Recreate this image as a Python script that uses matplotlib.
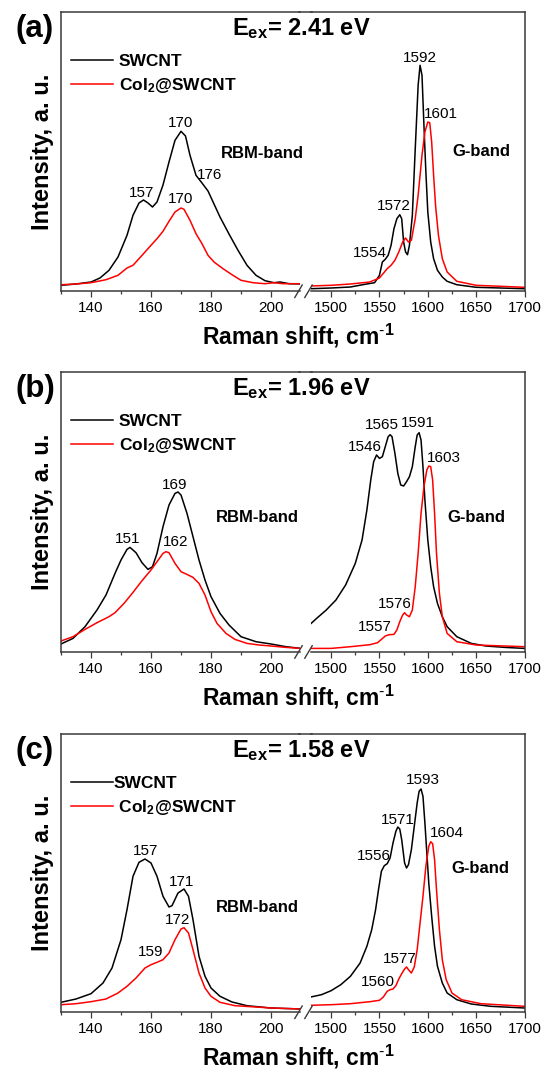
import matplotlib
matplotlib.use('Agg')
import matplotlib.pyplot as plt
from matplotlib.lines import Line2D
from matplotlib.ticker import MultipleLocator, NullLocator

plt.rcParams['font.family'] = ['Liberation Sans', 'DejaVu Sans']
plt.rcParams['mathtext.fontset'] = 'custom'
plt.rcParams['mathtext.rm'] = 'Liberation Sans'
plt.rcParams['mathtext.bf'] = 'Liberation Sans:bold'
plt.rcParams['mathtext.it'] = 'Liberation Sans:italic'

# ---------------- data (intensity in arbitrary units) ----------------
# Panel (a)  E_ex = 2.41 eV
a_rbm_sw_x = [130, 135, 140, 143, 146, 149, 152, 154, 156, 157.5, 159, 160.5, 162, 164, 166, 168, 170, 171.5, 173, 175,
              177, 179, 181, 183, 186, 189, 192, 195, 198, 201, 203, 206, 210]
a_rbm_sw_y = [5.7, 7, 9, 13, 20.7, 34, 55.7, 75.7, 88, 91, 88, 84, 89, 106, 129, 150.7, 159.7, 155, 135.7, 115.7,
              108, 100, 87, 74, 57, 40.7, 25.7, 15.7, 10.3, 8.3, 9, 7.3, 7]
a_rbm_co_x = [130, 135, 140, 145, 149, 152, 154, 156, 158, 160, 162, 164, 166, 168, 170, 171, 173, 175, 177, 179, 181,
              184, 187, 190, 194, 198, 201, 204, 210]
a_rbm_co_y = [6.3, 7, 8.3, 11.3, 15.7, 23, 25.7, 32.3, 39, 45.7, 52.3, 59.7, 69.7, 79, 83, 81.7, 70.7, 57.3, 47.3, 35.7,
              29, 22.3, 16.3, 10.7, 8.3, 7.3, 8.3, 7.3, 7.3]
a_g_sw_x = [1479, 1500, 1520, 1535, 1545, 1550, 1553, 1556, 1559, 1562, 1565, 1568, 1571, 1573, 1575, 1577, 1579, 1581,
            1584, 1587, 1590, 1592, 1594, 1596, 1598, 1600, 1603, 1606, 1610, 1615, 1620, 1630, 1650, 1700]
a_g_sw_y = [2.3, 3, 4, 6.7, 8.3, 15.7, 29, 31.7, 35.7, 45.7, 62.3, 72.3, 76.3, 72.3, 49, 39, 36.3, 45.7,
            75.7, 142, 205.7, 225.7, 215.7, 165.7, 119, 79, 49, 32.3, 20.7, 14, 9.7, 6.3, 3.7, 2.3]
a_g_co_x = [1479, 1500, 1520, 1540, 1550, 1558, 1562, 1566, 1570, 1574, 1577, 1580, 1583, 1587, 1590, 1594, 1597, 1600,
            1602, 1604, 1606, 1608, 1611, 1615, 1620, 1630, 1650, 1700]
a_g_co_y = [5, 5.7, 7, 9, 13, 22.3, 25.7, 30.7, 39, 49, 53, 49, 50.7, 72.3, 95.7, 135.7, 159, 169,
            168.3, 149, 115.7, 85.7, 55.7, 32.3, 19, 9.7, 5.7, 3.7]

# Panel (b)  E_ex = 1.96 eV
b_rbm_sw_x = [130, 134, 138, 142, 145, 148, 150, 152, 153, 155, 157, 159, 160.5, 162, 164, 166, 168, 169, 170, 172, 174,
              176, 178, 180, 183, 186, 190, 195, 200, 205, 210]
b_rbm_sw_y = [7.7, 13.3, 25, 41.7, 56.7, 78.3, 91.7, 102.3, 104.3, 99, 89, 82.3, 85, 98.3, 125, 146.7, 158.3, 159.7,
              156.7, 138.3, 115, 91.7, 71.7, 55, 38.3, 26.7, 15, 10, 7.7, 5, 3.3]
b_rbm_co_x = [130, 134, 138, 142, 146, 148, 151, 154, 157, 160, 162, 164, 165, 166, 168, 170, 172, 174, 176, 178, 180,
              182, 185, 188, 192, 196, 200, 205, 210]
b_rbm_co_y = [10.7, 15, 22.3, 29, 35, 39, 48.3, 59.3, 71, 81.7, 90, 98.3, 100, 99, 88.3, 80, 77.3, 74.3, 68.3, 56.7, 40,
              28.3, 18.3, 12.3, 8.3, 6.7, 5.7, 4.3, 3.3]
b_g_sw_x = [1479, 1485, 1495, 1505, 1515, 1525, 1532, 1537, 1541, 1544, 1547, 1550, 1553, 1556, 1559, 1561, 1563, 1566,
            1569, 1572, 1575, 1578, 1581, 1584, 1587, 1589, 1591, 1593, 1595, 1597, 1600, 1603, 1606, 1610, 1615,
            1620, 1630, 1645, 1660, 1680, 1700]
b_g_sw_y = [28, 33.3, 41.7, 51.7, 66.7, 88.3, 111.7, 141.7, 171.7, 190, 196.7, 193.3, 195, 205, 215, 217, 215, 198.3,
            178.3, 166.7, 165.7, 170, 175, 185, 205, 216.7, 219, 211.7, 185, 151.7, 111.7, 85, 65, 48.3, 35,
            25, 15, 8.3, 5.7, 4.3, 3.3]
b_g_co_x = [1479, 1500, 1520, 1540, 1548, 1552, 1556, 1560, 1565, 1568, 1571, 1574, 1576, 1578, 1581, 1584, 1587, 1590,
            1593, 1596, 1599, 1601, 1603, 1605, 1607, 1609, 1612, 1615, 1620, 1630, 1650, 1700]
b_g_co_y = [3.3, 3.3, 5, 7, 9, 12.3, 15.7, 17, 17.3, 21.7, 30, 36.7, 39, 36.7, 35, 41.7, 65, 98.3,
            138.3, 165, 181.7, 185.7, 185, 171.7, 138.3, 98.3, 58.3, 35, 18.3, 10, 6.7, 5]

# Panel (c)  E_ex = 1.58 eV
c_rbm_sw_x = [130, 135, 140, 144, 147, 150, 152, 154, 156, 158, 160, 162, 164, 166, 167, 169, 171, 172.5, 174, 176, 178,
              180, 183, 187, 192, 200, 210]
c_rbm_sw_y = [9.7, 13, 18.3, 29, 44, 72.3, 102.3, 135.7, 149.7, 153, 149, 135.7, 115.7, 105, 106.3, 119, 123, 115.7,
              92.3, 55.7, 35.7, 24, 15.7, 10, 6.3, 4, 3]
c_rbm_co_x = [130, 135, 140, 145, 149, 152, 155, 158, 160, 162, 164, 166, 168, 170, 171, 172.5, 174, 176, 178, 180, 183,
              188, 195, 200, 210]
c_rbm_co_y = [7.3, 8.3, 10.3, 13, 19, 25.7, 34, 44, 47.3, 49.7, 52.3, 59, 72.3, 83, 84.3, 79, 62.3, 39, 24, 15.7, 9.7,
              6.3, 5, 4, 3]
c_g_sw_x = [1479, 1490, 1500, 1510, 1520, 1530, 1537, 1542, 1546, 1549, 1552, 1555, 1558, 1561, 1564, 1567, 1569, 1571,
            1573, 1576, 1578, 1580, 1583, 1586, 1589, 1591, 1593, 1595, 1597, 1599, 1601, 1604, 1607, 1610, 1615,
            1620, 1630, 1645, 1665, 1700]
c_g_sw_y = [15, 17.3, 21.3, 27.3, 35.7, 49, 65.7, 82.3, 102.3, 122.3, 140.7, 146.3, 148.3, 154, 169, 180.7, 185, 183,
            172.3, 149, 144, 147.3, 162.3, 185.7, 209, 220.7, 223, 215.7, 189, 159, 129, 95.7, 65.7, 45.7, 29,
            19, 12.3, 8, 5.7, 4]
c_g_co_x = [1479, 1500, 1520, 1540, 1550, 1554, 1558, 1561, 1564, 1567, 1570, 1573, 1576, 1578, 1580, 1583, 1586, 1589,
            1592, 1595, 1598, 1601, 1603, 1605, 1607, 1609, 1612, 1615, 1619, 1625, 1635, 1655, 1700]
c_g_co_y = [6.7, 7.3, 8.3, 10.3, 11.7, 15, 20.7, 22.3, 23, 26.3, 33, 38.3, 43, 45, 42.3, 39, 45, 62.3,
            89, 115.7, 145.7, 165.7, 170.3, 168.3, 152.3, 122.3, 82.3, 52.3, 32.3, 19, 12.3, 8.3, 5.7]

# peak labels: (text, x, y)
a_peaks = [('157', 156.7, 98), ('170', 170, 168), ('176', 179.5, 116), ('170', 170, 91.7),
           ('1554', 1540, 38.3), ('1572', 1565, 85), ('1592', 1592, 233), ('1601', 1613.5, 177)]
b_peaks = [('151', 152.3, 112.7), ('169', 168, 166.7), ('162', 168.2, 110),
           ('1546', 1535.3, 205), ('1565', 1552.3, 226.7), ('1591', 1589.4, 228.3), ('1603', 1617, 194),
           ('1576', 1565.6, 47.7), ('1557', 1545, 24.3)]
c_peaks = [('157', 158.1, 160.7), ('171', 170.2, 130), ('172', 168.7, 92.3), ('159', 159.8, 59.7),
           ('1593', 1594.6, 231.7), ('1571', 1569, 192.3), ('1556', 1544.6, 156.3), ('1604', 1619.6, 179),
           ('1577', 1570.7, 53), ('1560', 1548.2, 30)]
a_bands = [('RBM-band', 197, 138), ('G-band', 1655, 139.7)]
b_bands = [('RBM-band', 195.5, 134), ('G-band', 1650.6, 134)]
c_bands = [('RBM-band', 195.5, 105), ('G-band', 1654.6, 143.3)]

panel_letters = ['(a)', '(b)', '(c)']
energies = ['2.41', '1.96', '1.58']
series_names = ['SWCNT', r'CoI$_\mathbf{2}$@SWCNT']
left_ticks = [140, 160, 180, 200]
right_ticks = [1500, 1550, 1600, 1650, 1700]

# ---------------- layout ----------------
W, H = 543, 1072
fig = plt.figure(figsize=(W / 100, H / 100), dpi=100)

tops = [12, 372.3, 734]
bots = [291, 651.7, 1012]
L0, L1 = 61, 299.5
R0, R1 = 310.8, 524.5
LXLIM = (130, 209.5)
RXLIM = (1479, 1700)

def fx(px):
    return px / W

def fy(py):
    return 1 - py / H

spine_col = '#3a3a3a'
red = '#ff0000'
LW = 1.1
panels = [
    (a_rbm_sw_x, a_rbm_sw_y, a_rbm_co_x, a_rbm_co_y, a_g_sw_x, a_g_sw_y, a_g_co_x, a_g_co_y, a_peaks, a_bands),
    (b_rbm_sw_x, b_rbm_sw_y, b_rbm_co_x, b_rbm_co_y, b_g_sw_x, b_g_sw_y, b_g_co_x, b_g_co_y, b_peaks, b_bands),
    (c_rbm_sw_x, c_rbm_sw_y, c_rbm_co_x, c_rbm_co_y, c_g_sw_x, c_g_sw_y, c_g_co_x, c_g_co_y, c_peaks, c_bands),
]

for i, (lsx, lsy, lcx, lcy, rsx, rsy, rcx, rcy, peaks, bands) in enumerate(panels):
    top, bot = tops[i], bots[i]
    hpx = bot - top
    axL = fig.add_axes([fx(L0), fy(bot), fx(L1 - L0), hpx / H])
    axR = fig.add_axes([fx(R0), fy(bot), fx(R1 - R0), hpx / H])
    axL.plot(lsx, lsy, color='black', lw=LW)
    axL.plot(lcx, lcy, color=red, lw=LW)
    axR.plot(rsx, rsy, color='black', lw=LW)
    axR.plot(rcx, rcy, color=red, lw=LW)
    axL.set_xlim(*LXLIM)
    axR.set_xlim(*RXLIM)
    for ax in (axL, axR):
        ax.set_ylim(0, hpx)
        ax.yaxis.set_major_locator(NullLocator())
        ax.yaxis.set_minor_locator(NullLocator())
        ax.tick_params(axis='x', which='major', direction='out', length=4, width=0.9, color=spine_col,
                       labelsize=11, pad=3.5)
        ax.tick_params(axis='x', which='minor', direction='out', length=2.5, width=0.9, color=spine_col)
        for s in ax.spines.values():
            s.set_color(spine_col)
            s.set_linewidth(1.1)
        ax.patch.set_visible(False)
    axL.set_xticks(left_ticks)
    axL.xaxis.set_minor_locator(MultipleLocator(10))
    axR.set_xticks(right_ticks)
    axR.xaxis.set_minor_locator(MultipleLocator(25))
    axL.spines['right'].set_visible(False)
    axR.spines['left'].set_visible(False)

    for txt, x, y in peaks:
        ax = axL if x < 1000 else axR
        ax.text(x, y, txt, ha='center', va='center', fontsize=11, clip_on=False)
    for txt, x, y in bands:
        ax = axL if x < 1000 else axR
        ax.text(x, y, txt, ha='center', va='center', fontsize=12, fontweight='bold', clip_on=False)

    # continuous top frame across the break
    fig.add_artist(Line2D([fx(L1 - 1), fx(R0 + 1)], [fy(top), fy(top)], color=spine_col, lw=1.1))
    # break marks on the bottom axis
    for cx in (298.5, 308.5):
        fig.add_artist(Line2D([fx(cx - 3.7), fx(cx + 3.7)], [fy(bot + 6.5), fy(bot - 6)],
                              color=spine_col, lw=1.0))

    # legend
    handles = [Line2D([], [], color='black', lw=LW), Line2D([], [], color=red, lw=LW)]
    if i == 2:
        labels = [series_names[0], ' ' + series_names[1]]
        pad = 0.05
    else:
        labels = series_names
        pad = 0.35
    fig.legend(handles, labels, loc='upper left', bbox_to_anchor=(fx(71), fy(top + 42)),
               frameon=False, borderpad=0, borderaxespad=0, handlelength=2.4, handletextpad=pad,
               labelspacing=0.38, prop={'weight': 'bold', 'size': 12.5})

    # panel letter, title, axis labels
    fig.text(fx(35), fy(top + 17), panel_letters[i], ha='center', va='center', fontsize=22.5, fontweight='bold')
    fig.text(fx(301.5), fy(top + 23), r'$\mathbf{E_{ex}}$= ' + energies[i] + ' eV', ha='center',
             va='baseline', fontsize=17, fontweight='bold')
    fig.text(fx(43), fy((top + bot) / 2), 'Intensity, a. u.', rotation=90, ha='center', va='center',
             fontsize=17, fontweight='bold')
    fig.text(fx(298.7), fy(bot + 45), r'Raman shift, cm$^{\text{-}\mathbf{1}}$', ha='center', va='center',
             fontsize=16.5, fontweight='bold')

fig.savefig('out.png', dpi=100)
